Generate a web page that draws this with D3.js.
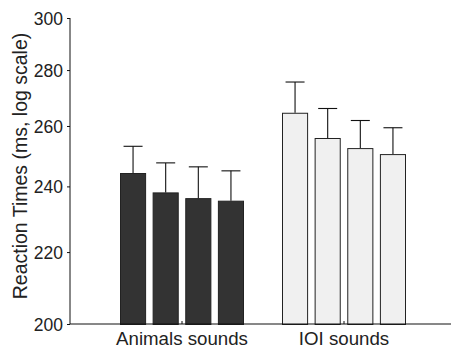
<!DOCTYPE html>
<html>
<head>
<meta charset="utf-8">
<script src="https://cdn.jsdelivr.net/npm/d3@7"></script>
<style>
  body { margin: 0; background: #fff; }
  svg { display: block; font-family: "Liberation Sans", Arial, sans-serif; }
</style>
</head>
<body>
<div id="chart"></div>
<script>
// Data
const groups = ["Animals sounds", "IOI sounds"];
const conditions = ["c1", "c2", "c3", "c4"];
const animalsMeans = [244.3, 238.1, 236.3, 235.5];
const animalsErr = [8.8, 9.5, 10.0, 9.5];
const ioiMeans = [264.6, 255.9, 252.5, 250.5];
const ioiErr = [11.0, 10.2, 9.4, 8.9];
const yTicks = [200, 220, 240, 260, 280, 300];

const groupFill = { "Animals sounds": "#333333", "IOI sounds": "#f0f0f0" };

const bars = [];
groups.forEach((g, gi) => {
  const means = gi === 0 ? animalsMeans : ioiMeans;
  const errs = gi === 0 ? animalsErr : ioiErr;
  conditions.forEach((c, i) => {
    bars.push({ group: g, cond: c, mean: means[i], err: errs[i] });
  });
});

const width = 451, height = 348;
const axisLeft = 70, axisBottom = 324, axisTop = 18;

const svg = d3.select("#chart").append("svg")
  .attr("width", width)
  .attr("height", height);

const y = d3.scaleLog()
  .domain([200, 300])
  .range([axisBottom, axisTop]);

const x0 = d3.scaleBand()
  .domain(groups)
  .range([101, 425])
  .padding(0);

const x1 = d3.scaleBand()
  .domain(conditions)
  .range([-62, 62])
  .paddingInner(0.2);

const center = g => x0(g) + x0.bandwidth() / 2;

// Bars
svg.append("g")
  .selectAll("rect")
  .data(bars)
  .join("rect")
  .attr("x", d => center(d.group) + x1(d.cond) + 0.5)
  .attr("y", d => y(d.mean) + 0.5)
  .attr("width", x1.bandwidth() - 1)
  .attr("height", d => axisBottom - y(d.mean))
  .attr("fill", d => groupFill[d.group])
  .attr("stroke", "#222")
  .attr("stroke-width", 1);

// Error bars (upper only)
const err = svg.append("g").attr("stroke", "#111").attr("stroke-width", 1.1);
err.selectAll("line.v")
  .data(bars)
  .join("line")
  .attr("class", "v")
  .attr("x1", d => center(d.group) + x1(d.cond) + x1.bandwidth() / 2)
  .attr("x2", d => center(d.group) + x1(d.cond) + x1.bandwidth() / 2)
  .attr("y1", d => y(d.mean))
  .attr("y2", d => y(d.mean + d.err));
err.selectAll("line.cap")
  .data(bars)
  .join("line")
  .attr("class", "cap")
  .attr("x1", d => center(d.group) + x1(d.cond) + x1.bandwidth() / 2 - 9.5)
  .attr("x2", d => center(d.group) + x1(d.cond) + x1.bandwidth() / 2 + 9.5)
  .attr("y1", d => y(d.mean + d.err))
  .attr("y2", d => y(d.mean + d.err));

// Y axis
const yAxis = svg.append("g")
  .attr("transform", `translate(${axisLeft},0)`)
  .call(d3.axisLeft(y).tickValues(yTicks).tickFormat(d3.format("d")).tickSize(3).tickPadding(4));
yAxis.select(".domain").attr("d", `M0,${axisTop}V${axisBottom}`).attr("stroke", "#111");
yAxis.selectAll(".tick line").attr("stroke", "#111");
yAxis.selectAll("text")
  .attr("font-size", 17.5)
  .attr("fill", "#222")
  .attr("dy", "0.36em");

// X axis
const xAxis = svg.append("g")
  .attr("transform", `translate(0,${axisBottom})`);
xAxis.append("line")
  .attr("x1", axisLeft).attr("x2", width)
  .attr("stroke", "#111");
xAxis.selectAll("line.tick")
  .data(groups)
  .join("line")
  .attr("class", "tick")
  .attr("x1", d => center(d)).attr("x2", d => center(d))
  .attr("y1", 0).attr("y2", -3)
  .attr("stroke", "#111");
xAxis.selectAll("text")
  .data(groups)
  .join("text")
  .attr("x", d => center(d))
  .attr("y", 21)
  .attr("text-anchor", "middle")
  .attr("font-size", 18.7)
  .attr("fill", "#222")
  .text(d => d);

// Y title
svg.append("text")
  .attr("transform", `translate(27,166) rotate(-90)`)
  .attr("text-anchor", "middle")
  .attr("font-size", 19.5)
  .attr("fill", "#222")
  .text("Reaction Times (ms, log scale)");
</script>
</body>
</html>
